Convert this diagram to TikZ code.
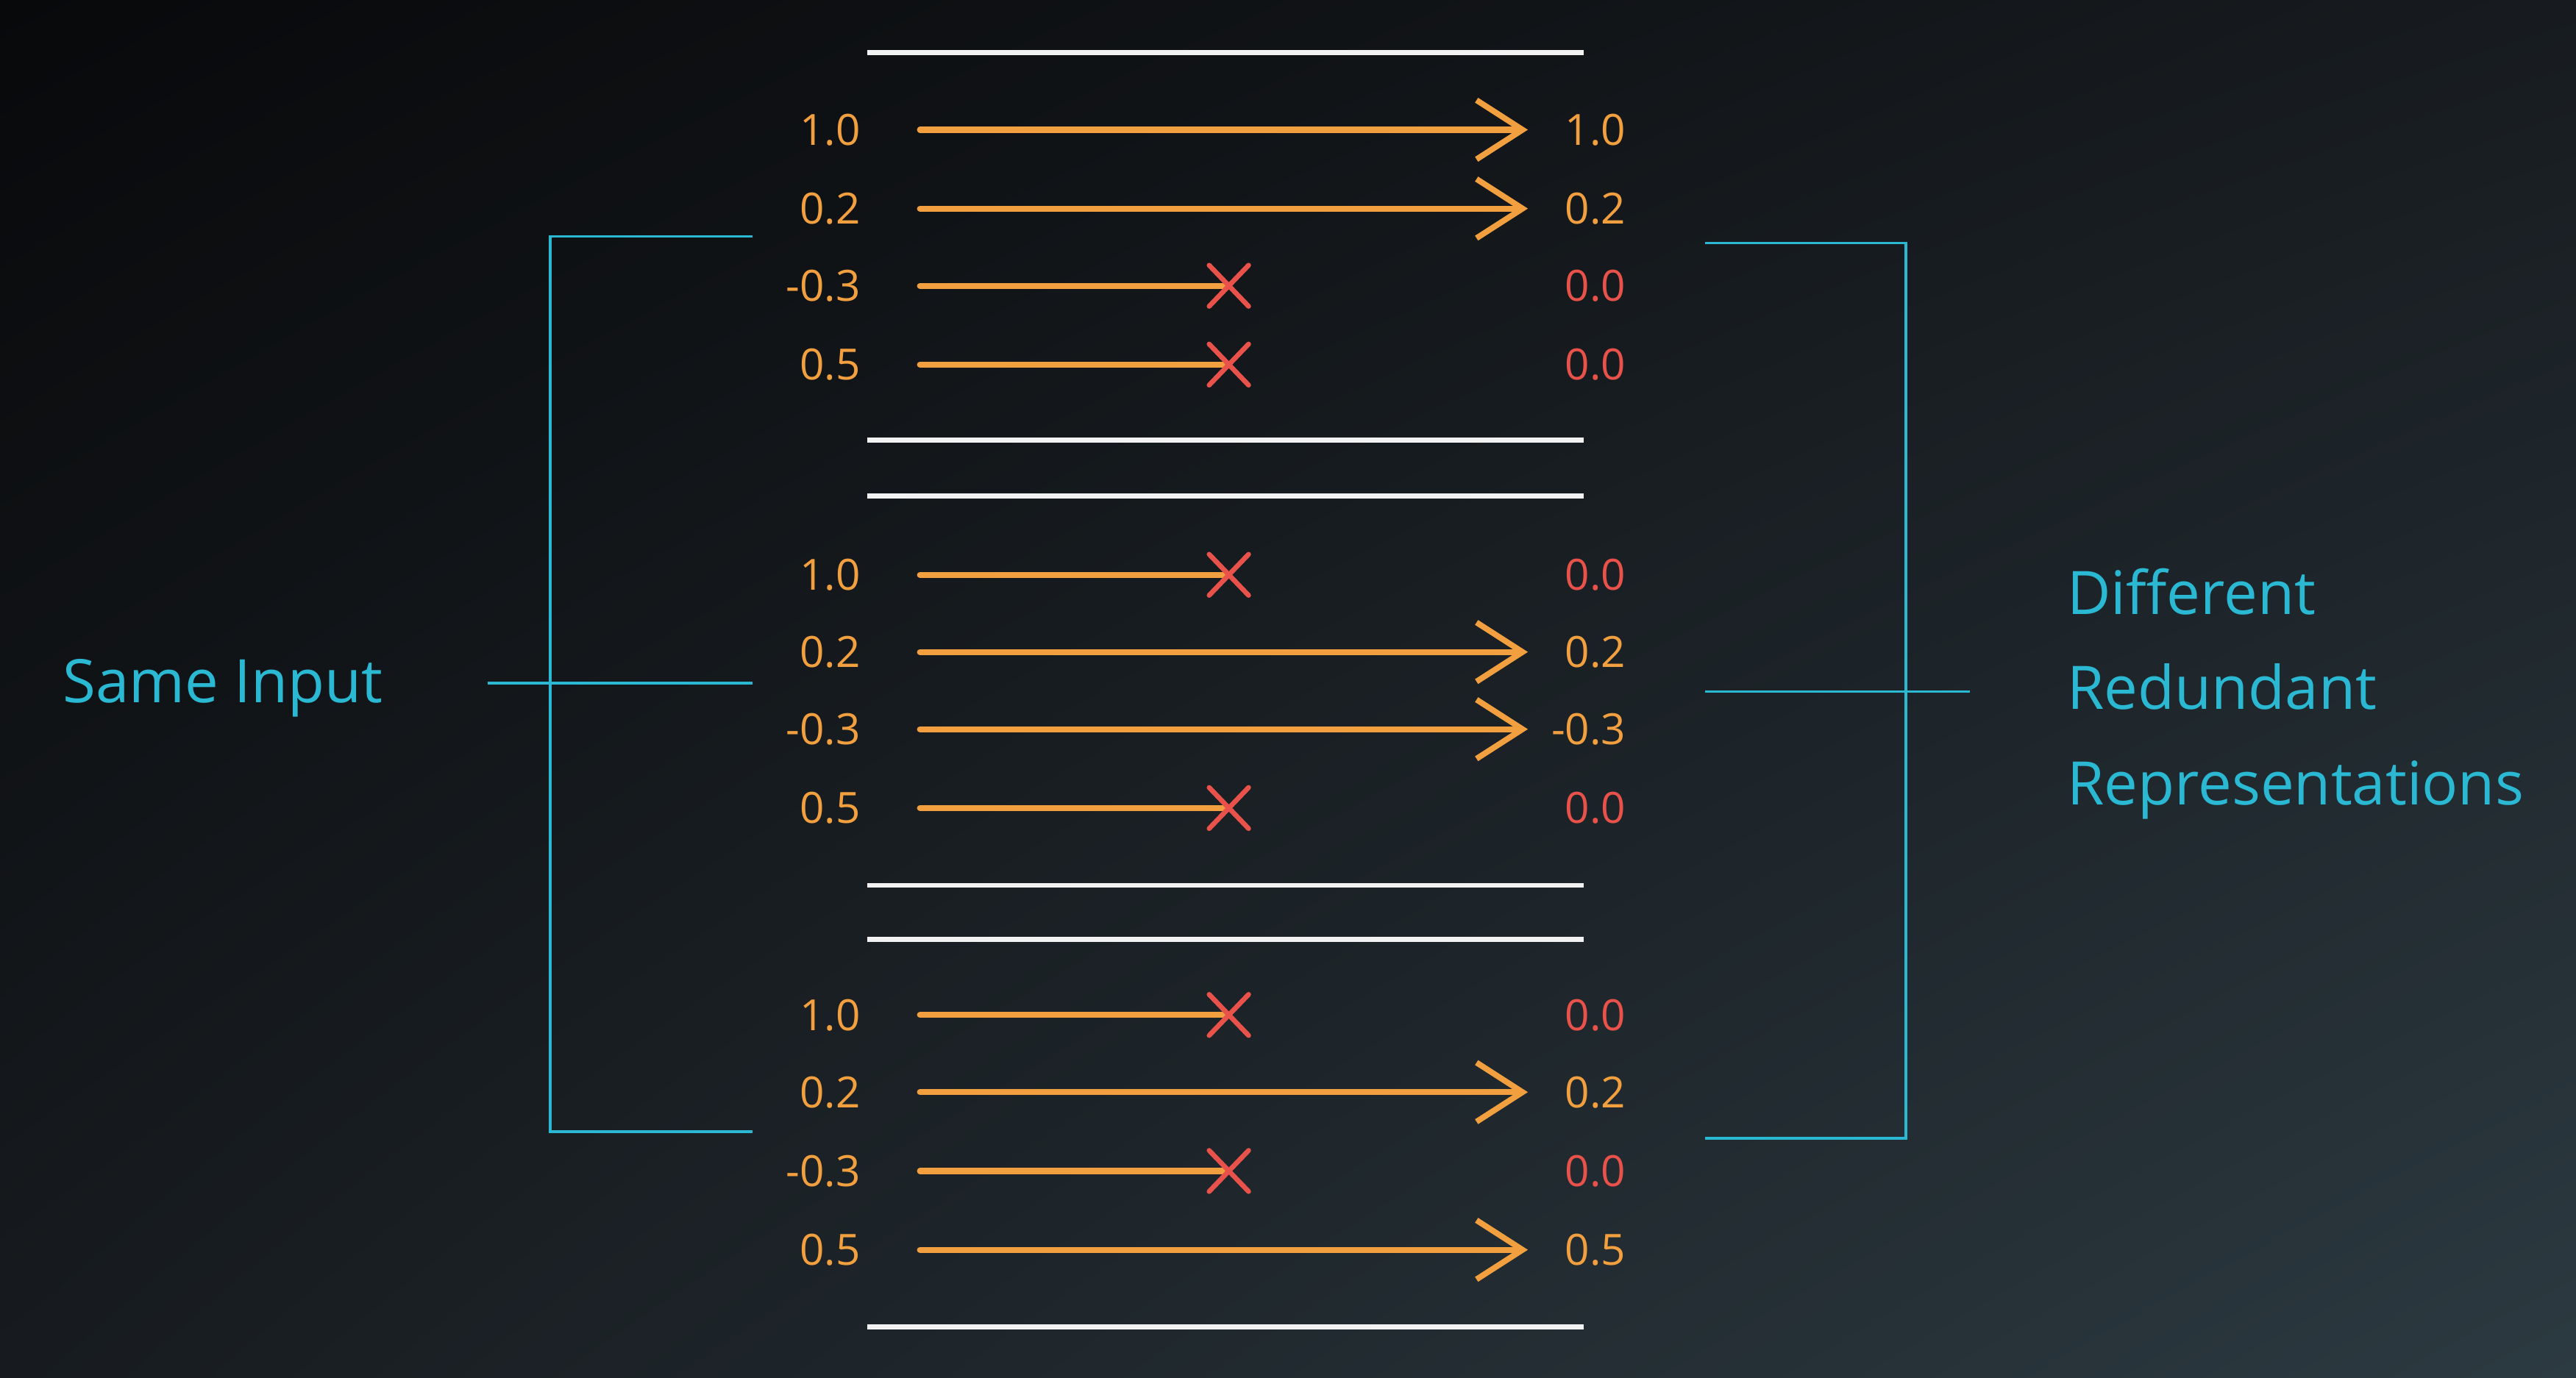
\documentclass[tikz,border=0pt]{standalone}
\usepackage{fontspec}
\setmainfont{Open Sans}
\usetikzlibrary{arrows.meta,shadings}
\definecolor{bgdark}{HTML}{08090B}
\definecolor{bgmid}{HTML}{171B1F}
\definecolor{bglight}{HTML}{2C3A41}
\definecolor{keep}{HTML}{F2A03F}
\definecolor{drop}{HTML}{E8524A}
\definecolor{brace}{HTML}{2AB8D2}
\definecolor{rule}{HTML}{F2F2F2}
\begin{document}
\begin{tikzpicture}[x=0.02cm,y=-0.02cm,
  num/.style={inner sep=0pt,font=\fontsize{14.9}{18}\selectfont},
  lab/.style={inner sep=0pt,anchor=base west,text=brace,font=\fontsize{20.8}{33}\selectfont},
  pass/.style={keep,line width=2.1pt,line cap=round,-{Straight Barb[length=0.56cm,width=0.72cm,line width=2pt]}},
  cut/.style={keep,line width=2.1pt,line cap=round},
  cross/.style={drop,line width=1.7pt,line cap=round},
  sep/.style={rule,line width=1.7pt},
  bracket/.style={brace,line width=0.9pt}]
  \useasboundingbox (0,0) rectangle (1568,839);
  \shade[upper left=bgdark,upper right=bgmid,lower left=bgmid,lower right=bglight] (0,0) rectangle (1568,839);
  % white separators
  \foreach \y in {32,268,302,539,572,808}
    \draw[sep] (528,\y) -- (964,\y);
  % rows: input, output
  \foreach \i/\y/\a/\b/\c in {1/79/1.0/1.0/keep,2/127/0.2/0.2/keep,3/174/-0.3/0.0/drop,4/222/0.5/0.0/drop,
      5/350/1.0/0.0/drop,6/397/0.2/0.2/keep,7/444/-0.3/-0.3/keep,8/492/0.5/0.0/drop,
      9/618/1.0/0.0/drop,10/665/0.2/0.2/keep,11/713/-0.3/0.0/drop,12/761/0.5/0.5/keep}{
    \node[num,text=keep,anchor=base east] (in\i) at (524,\y+9.4) {\a};
    \node[num,text=\c,anchor=base east] (out\i) at (990,\y+9.4) {\b};
    \coordinate (s\i) at (560,\y);
    \coordinate (t\i) at (930,\y);
    \coordinate (x\i) at (748,\y);
  }
  \foreach \i in {1,2,6,7,10,12}
    \draw[pass] (s\i) -- (t\i);
  \foreach \i in {3,4,5,8,9,11}{
    \draw[cut] (s\i) -- (x\i);
    \draw[cross] ([shift={(-12,-12.5)}]x\i) -- ([shift={(12,12.5)}]x\i);
    \draw[cross] ([shift={(-12,12.5)}]x\i) -- ([shift={(12,-12.5)}]x\i);
  }
  % left bracket
  \node[lab] (same) at (38,428) {Same Input};
  \coordinate (lt) at (458,144);
  \coordinate (lb) at (458,689);
  \coordinate (lin) at (297,416);
  \coordinate (lmid) at (458,416);
  \draw[bracket] (lt) -- ++(-123,0) |- (lb);
  \draw[bracket] (lin) -- (lmid);
  % right bracket
  \coordinate (rt) at (1038,148);
  \coordinate (rb) at (1038,693);
  \coordinate (rmid) at (1038,421);
  \coordinate (rout) at (1199,421);
  \draw[bracket] (rt) -- ++(122,0) |- (rb);
  \draw[bracket] (rmid) -- (rout);
  \node[lab] (diff) at (1258,374) {Different};
  \node[lab] (redun) at (1258,432) {Redundant};
  \node[lab] (repr) at (1258,490) {Representations};
\end{tikzpicture}
\end{document}
